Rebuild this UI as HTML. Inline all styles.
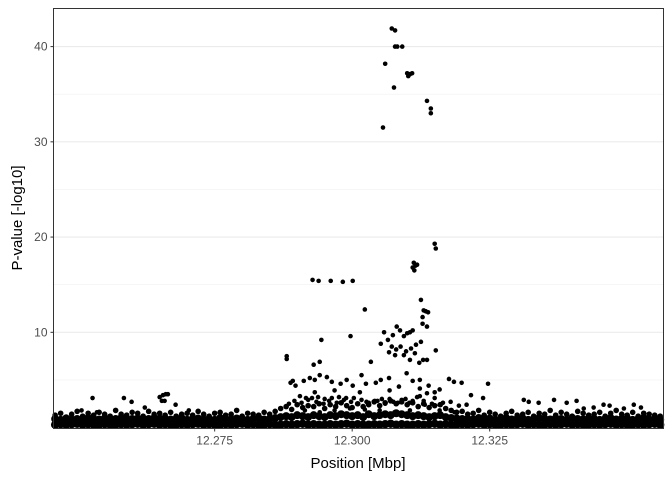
<!DOCTYPE html>
<html><head><meta charset="utf-8"><style>
body{margin:0;background:#fff;font-family:"Liberation Sans",sans-serif}
</style></head><body>
<svg id="chart" width="672" height="480" xmlns="http://www.w3.org/2000/svg" font-family="Liberation Sans, sans-serif">
<g id="grid"></g>
<g id="pts"></g>
<rect x="53.5" y="8.5" width="610" height="420" fill="none" stroke="#333" stroke-width="1"/>
<g id="axes"></g>
<text x="358" y="468" text-anchor="middle" font-size="15" fill="#000">Position [Mbp]</text>
<text transform="translate(22,218) rotate(-90)" text-anchor="middle" font-size="15" fill="#000">P-value [-log10]</text>
</svg>
<script>
const xTicks=[12.275,12.300,12.325];
const xTickLabels=["12.275","12.300","12.325"];
const yTicks=[10,20,30,40];
const yTickLabels=["10","20","30","40"];
const yMinor=[5,15,25,35];
// notable SNPs: position (Mbp) and -log10 p
const snpPos=[12.3072,12.3078,12.3078,12.3082,12.3091,12.3060,12.3100,12.3105,12.3102,12.3109,12.3076,12.3056,12.3136,12.3143,12.3143,
12.3150,12.3152,12.3112,12.3115,12.3118,12.3113,12.3110,
12.2928,12.2939,12.2961,12.2983,12.3001,
12.3023,12.3125,12.3130,12.3134,12.3138,12.3128,12.2997,12.2944,12.3128,12.3136,
12.3058,12.3065,12.3074,12.3081,12.3087,12.3094,12.3100,12.3105,12.3110,12.3072,12.3080,12.3088,12.3098,12.3107,12.3116,12.3125,12.3067,12.3078,12.3094,12.3114,12.3105,12.3129,12.3052,
12.3152,12.3136,12.3122,12.2881,12.2881,12.2930,12.2941,12.3034,
12.2888,12.2892,12.2897,12.2912,12.2923,12.2932,12.2941,12.2954,12.2963,12.2979,12.2990,12.3001,12.3017,12.3025,12.3043,12.3052,12.3067,12.3085,12.3099,12.3110,12.3123,12.3139,12.3176,12.3185,12.3199,12.3247,
12.2905,12.2916,12.2927,12.2938,12.2950,12.2963,12.2976,12.2989,12.3003,12.3017,12.3026,12.3041,12.3054,12.3068,12.3083,12.3097,12.3110,12.3123,12.3136,12.3150,12.3165,12.3179,12.3194,12.3208,12.3216,12.3238,
12.2914,12.2941,12.2968,12.2996,12.3023,12.3050,12.3077,12.3105,12.3132,12.3159,12.3186,
12.2932,12.2968,12.3014,12.3068,12.3123,12.3150,12.3159,
12.2650,12.2656,12.2661,12.2665,12.2659,12.2654,12.2585,12.2599,12.2623,12.2528,12.2508,12.2679,12.2703,12.2536,
12.3312,12.3321,12.3339,12.3367,12.3390,12.3421,12.3439,12.3457,12.3494,12.3512,12.3525,12.3408,12.3468,
12.2885,12.2895,12.2908,12.2920,12.2935,12.2948,12.2958,12.2972,12.2985,12.2998,12.3010,12.3030,12.3046,12.3060,12.3075,12.3090,12.3104,12.3118,12.3130,12.3145,12.3160];
const snpP=[41.9,41.7,40.0,40.0,40.0,38.2,37.2,37.1,36.9,37.2,35.7,31.5,34.3,33.5,33.0,
19.3,18.8,17.3,17.0,17.1,16.5,16.8,
15.5,15.4,15.4,15.3,15.4,
12.4,13.4,12.3,12.2,12.1,11.6,9.6,9.2,10.9,10.6,
10.0,9.2,9.7,10.6,10.2,9.6,9.9,10.0,10.2,8.5,8.2,8.5,8.0,8.3,8.7,9.0,7.9,7.6,7.6,7.8,7.1,7.1,8.8,
8.1,7.1,6.8,7.5,7.2,6.6,6.9,6.9,
4.7,4.9,4.4,4.9,5.2,5.0,5.5,5.3,4.8,4.6,5.0,4.4,5.5,4.6,4.7,5.0,5.2,4.3,5.7,4.9,5.0,4.4,5.1,4.8,4.7,4.6,
3.3,3.1,3.1,3.2,3.0,3.1,3.2,3.1,3.1,2.9,2.7,2.8,3.0,3.0,2.6,3.0,2.8,3.3,3.6,3.1,2.6,2.7,2.3,2.4,3.4,3.1,
1.8,1.6,1.8,2.0,1.9,1.8,1.6,1.8,2.4,1.8,1.6,
3.7,3.9,3.7,3.9,4.1,3.7,4.0,
3.2,3.4,3.5,3.5,2.8,2.8,3.1,2.7,2.1,3.1,1.8,2.4,1.8,1.6,
2.9,2.7,2.6,2.9,2.6,2.0,2.1,2.4,2.0,2.4,2.1,2.8,2.3,
2.5,2.8,2.6,2.9,2.7,2.5,2.8,2.6,2.9,2.7,2.5,2.6,2.8,2.5,2.7,2.9,2.6,3.2,2.8,2.5,2.4];
// background SNPs along the region
const basePos=[12.246,12.247,12.248,12.249,12.250,12.251,12.252,12.253,12.254,12.255,12.256,12.257,12.258,12.259,12.260,12.261,12.262,12.263,12.264,12.265,12.266,12.267,12.268,12.269,12.270,12.271,12.272,12.273,12.274,12.275,12.276,12.277,12.278,12.279,12.280,12.281,12.282,12.283,12.284,12.285,12.286,12.287,12.288,12.289,12.290,12.291,12.292,12.293,12.294,12.295,12.296,12.297,12.298,12.299,12.300,12.301,12.302,12.303,12.304,12.305,12.306,12.307,12.308,12.309,12.310,12.311,12.312,12.313,12.314,12.315,12.316,12.317,12.318,12.319,12.320,12.321,12.322,12.323,12.324,12.325,12.326,12.327,12.328,12.329,12.330,12.331,12.332,12.333,12.334,12.335,12.336,12.337,12.338,12.339,12.340,12.341,12.342,12.343,12.344,12.345,12.346,12.347,12.348,12.349,12.350,12.351,12.352,12.353,12.354,12.355,12.356];
const baseLow=[0.3,0.35,0.3,0.35,0.4,0.3,0.35,0.3,0.3,0.35,0.3,0.3,0.35,0.3,0.35,0.4,0.3,0.35,0.4,0.3,0.35,0.3,0.3,0.35,0.3,0.35,0.4,0.3,0.35,0.3,0.3,0.35,0.3,0.35,0.4,0.3,0.35,0.3,0.3,0.35,0.3,0.3,0.35,0.3,0.35,0.4,0.3,0.35,0.3,0.3,0.35,0.3,0.35,0.4,0.3,0.35,0.3,0.3,0.35,0.3,0.35,0.4,0.3,0.35,0.3,0.3,0.35,0.3,0.35,0.4,0.3,0.35,0.3,0.3,0.35,0.3,0.35,0.4,0.3,0.35,0.3,0.3,0.35,0.3,0.35,0.4,0.3,0.35,0.3,0.3,0.35,0.3,0.35,0.4,0.3,0.35,0.3,0.3,0.35,0.3,0.35,0.4,0.3,0.35,0.3,0.3,0.35,0.3,0.35,0.4,0.3];
const baseMid=[0.9,0.8,0.95,0.85,0.9,0.8,1.0,0.9,0.85,0.95,0.8,0.9,1.0,0.85,0.9,0.95,0.8,0.9,1.0,0.95,0.9,0.85,0.9,1.0,0.8,0.9,0.95,0.85,0.9,0.8,1.0,0.9,0.85,0.95,0.9,0.8,0.9,1.0,0.85,0.9,1.0,1.1,1.2,1.1,1.3,1.2,1.1,1.3,1.2,1.1,1.3,1.2,1.4,1.3,1.2,1.3,1.1,1.4,1.2,1.3,1.4,1.3,1.5,1.4,1.3,1.2,1.3,1.2,1.1,1.2,1.3,1.1,1.0,0.95,0.9,0.9,0.85,1.0,0.9,0.95,0.8,0.9,1.0,0.85,0.9,0.95,0.8,0.9,1.0,0.9,0.85,0.95,0.9,0.8,1.0,0.9,0.85,0.95,0.9,0.8,0.9,1.0,0.85,0.9,0.95,0.8,0.9,1.0,0.85,0.9,0.8];
const baseHigh=[1.3,1.5,1.1,1.4,1.7,1.2,1.5,1.3,1.6,1.4,1.2,1.8,1.4,1.3,1.6,1.5,1.2,1.7,1.4,1.5,1.3,1.6,1.2,1.4,1.5,1.3,1.7,1.4,1.2,1.5,1.6,1.3,1.4,1.8,1.2,1.5,1.4,1.3,1.6,1.4,1.7,2.0,2.2,1.9,2.4,2.1,2.3,2.2,2.5,2.0,2.4,2.2,2.6,2.3,2.1,2.5,2.2,2.4,2.7,2.3,2.6,2.8,2.5,2.7,2.4,2.6,2.2,2.5,2.1,2.3,2.4,2.0,1.8,1.6,1.7,1.4,1.5,1.8,1.3,1.6,1.4,1.2,1.5,1.7,1.3,1.4,1.6,1.2,1.5,1.4,1.8,1.3,1.6,1.4,1.2,1.7,1.5,1.3,1.4,1.6,1.2,1.5,1.8,1.4,1.3,1.6,1.2,1.5,1.4,1.3,1.2];

const L=53.5,R=663.5,T=8.5,B=428.5;
const X0=12.2457,X1=12.3566,Y0=-0.1,Y1=44.0;
const xs=v=>L+(v-X0)/(X1-X0)*(R-L);
const ys=v=>B-(v-Y0)/(Y1-Y0)*(B-T);
const NS='http://www.w3.org/2000/svg';
function mk(tag,parent){const e=document.createElementNS(NS,tag);parent.appendChild(e);return e;}
const grid=document.getElementById('grid'),axes=document.getElementById('axes'),pts=document.getElementById('pts');
const bg=mk('rect',grid);bg.setAttribute('x',L);bg.setAttribute('y',T);bg.setAttribute('width',R-L);bg.setAttribute('height',B-T);bg.setAttribute('fill','#fff');


yMinor.forEach(v=>{const l=mk('line',grid);l.setAttribute('x1',L);l.setAttribute('x2',R);l.setAttribute('y1',ys(v));l.setAttribute('y2',ys(v));l.setAttribute('stroke','#f0f0f0');l.setAttribute('stroke-width','0.6');

});
yTicks.forEach((v,i)=>{const l=mk('line',grid);l.setAttribute('x1',L);l.setAttribute('x2',R);l.setAttribute('y1',ys(v));l.setAttribute('y2',ys(v));l.setAttribute('stroke','#ebebeb');l.setAttribute('stroke-width','1.1');


const t=mk('line',axes);t.setAttribute('x1',L-3);t.setAttribute('x2',L);t.setAttribute('y1',ys(v));t.setAttribute('y2',ys(v));t.setAttribute('stroke','#333');


const tx=mk('text',axes);tx.setAttribute('x',L-6);tx.setAttribute('y',ys(v)+4);tx.setAttribute('text-anchor','end');tx.setAttribute('font-size','12');tx.setAttribute('fill','#4d4d4d');tx.textContent=yTickLabels[i];

});
xTicks.forEach((v,i)=>{const t=mk('line',axes);t.setAttribute('x1',xs(v));t.setAttribute('x2',xs(v));t.setAttribute('y1',B);t.setAttribute('y2',B+3);t.setAttribute('stroke','#333');


const tx=mk('text',axes);tx.setAttribute('x',xs(v));tx.setAttribute('y',B+16);tx.setAttribute('text-anchor','middle');tx.setAttribute('font-size','12');tx.setAttribute('fill','#4d4d4d');tx.textContent=xTickLabels[i];

});
function dot(x,y,r){const c=mk('circle',pts);c.setAttribute('cx',xs(x));c.setAttribute('cy',ys(y));c.setAttribute('r',r);c.setAttribute('fill','#000');

}
basePos.forEach((p,i)=>{dot(p,baseLow[i],4.2);dot(p,baseMid[i],4.0);dot(p,baseHigh[i],2.8);});
snpPos.forEach((p,i)=>dot(p,snpP[i],2.3));
</script>
</body></html>
